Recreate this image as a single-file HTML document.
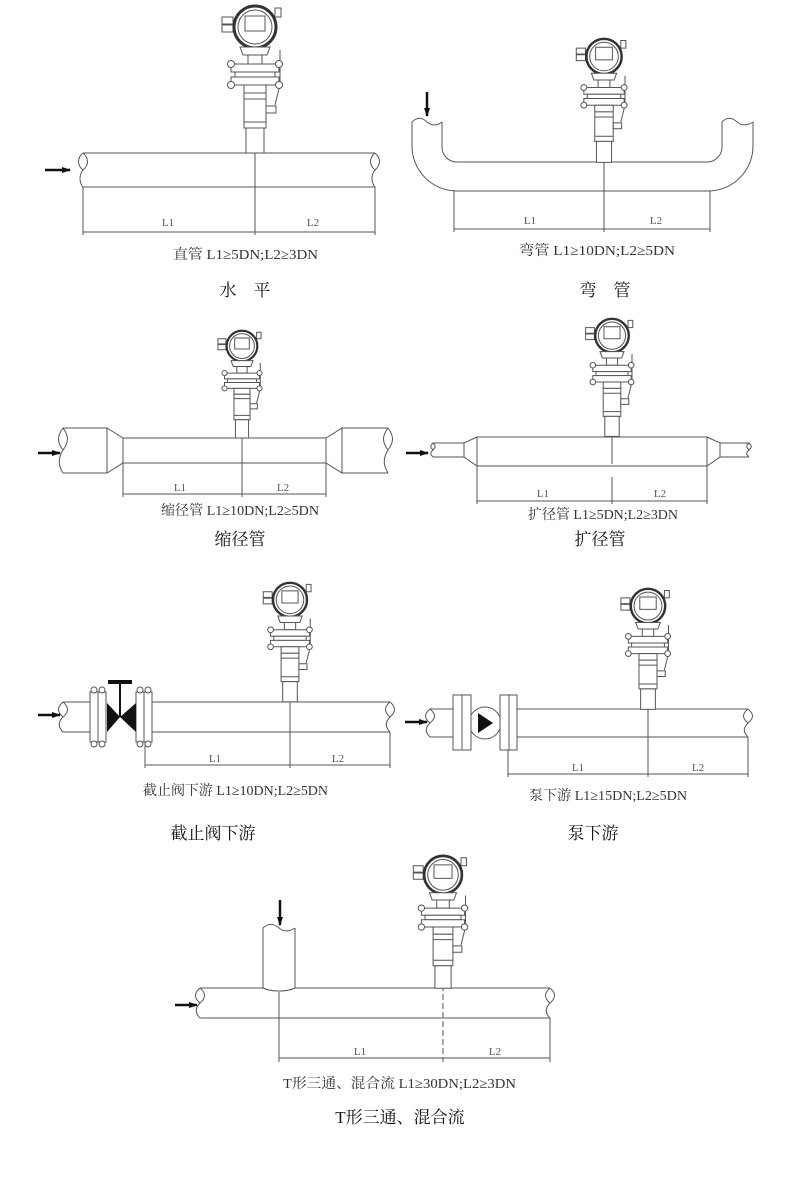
<!DOCTYPE html>
<html><head><meta charset="utf-8"><style>
html,body{margin:0;padding:0;background:#fff}
svg{display:block}
text{font-family:"Liberation Serif","Noto Serif CJK SC","Noto Sans CJK SC",serif;fill:#333}
.c{font-size:14px}
.t{font-size:17px;fill:#111}
.l{font-size:11px;fill:#555}
</style></head><body>
<svg width="800" height="1200" viewBox="0 0 800 1200" xmlns="http://www.w3.org/2000/svg">
<defs>
<g id="m" fill="#fff" stroke="#555" stroke-width="1">
  <rect x="-33" y="12" width="11" height="7" vector-effect="non-scaling-stroke"/>
  <rect x="-33" y="20" width="11" height="7" vector-effect="non-scaling-stroke"/>
  <rect x="20" y="3" width="6" height="9" vector-effect="non-scaling-stroke"/>
  <circle cx="0" cy="22" r="21" stroke="#333" stroke-width="3"/>
  <circle cx="0" cy="22" r="17" vector-effect="non-scaling-stroke"/>
  <rect x="-10" y="11" width="20" height="15" vector-effect="non-scaling-stroke"/>
  <path d="M-15,42 L15,42 L12,50 L-12,50 Z" vector-effect="non-scaling-stroke"/>
  <rect x="-7" y="50" width="14" height="9" vector-effect="non-scaling-stroke"/>
  <path d="M25,45 L25,80 L20,100" fill="none" vector-effect="non-scaling-stroke"/>
  <rect x="-24" y="59" width="48" height="8" vector-effect="non-scaling-stroke"/>
  <rect x="-20" y="67" width="40" height="5" vector-effect="non-scaling-stroke"/>
  <rect x="-24" y="72" width="48" height="8" vector-effect="non-scaling-stroke"/>
  <circle cx="-24" cy="59" r="3.5" vector-effect="non-scaling-stroke"/>
  <circle cx="24" cy="59" r="3.5" vector-effect="non-scaling-stroke"/>
  <circle cx="-24" cy="80" r="3.5" vector-effect="non-scaling-stroke"/>
  <circle cx="24" cy="80" r="3.5" vector-effect="non-scaling-stroke"/>
  <rect x="-11" y="80" width="22" height="8" vector-effect="non-scaling-stroke"/>
  <rect x="-11" y="88" width="22" height="35" vector-effect="non-scaling-stroke"/>
  <line x1="-11" y1="94" x2="11" y2="94" vector-effect="non-scaling-stroke"/>
  <line x1="-11" y1="117" x2="11" y2="117" vector-effect="non-scaling-stroke"/>
  <rect x="11" y="101" width="10" height="7" vector-effect="non-scaling-stroke"/>
  <rect x="-9" y="123" width="18" height="25" vector-effect="non-scaling-stroke"/>
</g>
<marker id="ah" markerUnits="userSpaceOnUse" markerWidth="9" markerHeight="8" refX="8" refY="4" orient="auto"><path d="M0,1 L9,4 L0,7 Z" fill="#111"/></marker>
</defs>

<g stroke="#555" stroke-width="1" fill="none">
<!-- Diagram 1 -->
<path d="M83,153 L375,153 M83,187 L375,187"/>
<path d="M83,153 c-6,5 -6,12 0,17 c6,-5 6,-12 0,-17 M83,170 c-4,5 -4,12 0,17"/>
<path d="M375,153 c-6,5 -6,12 0,17 c6,-5 6,-12 0,-17 M375,170 c-4,5 -4,12 0,17"/>
<path d="M83,187 V235 M375,187 V235 M255,150 V235 M83,232 H375"/>
<!-- Diagram 2 -->
<path d="M412,122 V146 a45,45 0 0 0 45,45 H708 a45,45 0 0 0 45,-45 V122"/>
<path d="M442,122 V147 a15,15 0 0 0 15,15 H707 a15,15 0 0 0 15,-15 V122"/>
<path d="M412,122 c5,-5 10,-5 15,0 c5,4 10,4 15,0 M722,122 c5,-5 10,-5 15,0 c5,4 10,4 16,0"/>
<path d="M454,191 V232 M710,191 V232 M604,158 V232 M454,229 H710"/>
<!-- Diagram 3 -->
<path d="M63,428 H107 L123,438 H326 L342,428 H388 M63,473 H107 L123,463 H326 L342,473 H388 M107,428 V473 M123,438 V463 M326,438 V463 M342,428 V473"/>
<path d="M63,428 c-6,8 -6,14 0,22 c6,-8 6,-14 0,-22 M63,450 c-5,8 -5,15 0,23"/>
<path d="M388,428 c-6,8 -6,14 0,22 c6,-8 6,-14 0,-22 M388,450 c-5,8 -5,15 0,23"/>
<path d="M123,463 V497 M326,463 V497 M242,436 V497 M123,494 H326"/>
<!-- Diagram 4 -->
<path d="M433,443 H464 L477,437 H707 L720,443 H749 M433,457 H464 L477,466 H707 L720,457 H749 M464,443 V457 M477,437 V466 M707,437 V466 M720,443 V457"/>
<path d="M433,443 c-3,3 -3,4 0,7 c3,-3 3,-4 0,-7 M433,450 c-3,3 -3,4 0,7 M749,443 c-3,3 -3,4 0,7 c3,-3 3,-4 0,-7 M749,450 c-3,3 -3,4 0,7"/>
<path d="M477,466 V504 M707,466 V504 M612,434 V464 M612,477 V504 M477,501 H707"/>
<!-- Diagram 5 -->
<path d="M63,702 H90 M63,732 H90 M152,702 H390 M152,732 H390"/>
<path d="M63,702 c-6,5 -6,10 0,15 c6,-5 6,-10 0,-15 M63,717 c-5,5 -5,10 0,15 M390,702 c-6,5 -6,10 0,15 c6,-5 6,-10 0,-15 M390,717 c-5,5 -5,10 0,15"/>
<rect x="90" y="692" width="8" height="50" fill="#fff"/><rect x="98" y="692" width="8" height="50" fill="#fff"/>
<rect x="136" y="692" width="8" height="50" fill="#fff"/><rect x="144" y="692" width="8" height="50" fill="#fff"/>
<circle cx="94" cy="690" r="3" fill="#fff"/><circle cx="102" cy="690" r="3" fill="#fff"/><circle cx="94" cy="744" r="3" fill="#fff"/><circle cx="102" cy="744" r="3" fill="#fff"/>
<circle cx="140" cy="690" r="3" fill="#fff"/><circle cx="148" cy="690" r="3" fill="#fff"/><circle cx="140" cy="744" r="3" fill="#fff"/><circle cx="148" cy="744" r="3" fill="#fff"/>
<path d="M145,742 V768 M390,732 V768 M290,700 V768 M145,765 H390"/>
<!-- Diagram 6 -->
<path d="M430,709 H453 M430,737 H453 M517,709 H748 M517,737 H748"/>
<path d="M430,709 c-6,5 -6,9 0,14 c6,-5 6,-9 0,-14 M430,723 c-5,5 -5,9 0,14 M748,709 c-6,5 -6,9 0,14 c6,-5 6,-9 0,-14 M748,723 c-5,5 -5,9 0,14"/>
<circle cx="485" cy="723" r="16" fill="#fff"/>
<rect x="453" y="695" width="9" height="55" fill="#fff"/><rect x="462" y="695" width="9" height="55" fill="#fff"/>
<rect x="500" y="695" width="9" height="55" fill="#fff"/><rect x="509" y="695" width="8" height="55" fill="#fff"/>
<path d="M508,750 V777 M748,737 V777 M648,707 V777 M508,774 H748"/>
<!-- Diagram 7 -->
<path d="M200,988 H263 M295,988 H550 M200,1018 H550 M263,928 V988 M295,928 V988"/>
<path d="M263,928 c5,-5 10,-5 16,0 c5,4 10,4 16,0 M263,988 c8,4 24,4 32,0"/>
<path d="M200,988 c-6,5 -6,10 0,15 c6,-5 6,-10 0,-15 M200,1003 c-5,5 -5,10 0,15 M550,988 c-6,5 -6,10 0,15 c6,-5 6,-10 0,-15 M550,1003 c-5,5 -5,10 0,15"/>
<path d="M279,992 V1062 M550,1018 V1062 M279,1058 H550"/>
<path d="M443,985 V1062" stroke-dasharray="6,3"/>
</g>

<g fill="#111">
<path d="M107,703 L120,717 L107,732 Z M136,703 L120,717 L136,732 Z"/>
<rect x="108" y="680" width="24" height="4"/>
<path d="M478,713 L493,723 L478,733 Z"/>
</g>
<line x1="120" y1="684" x2="120" y2="717" stroke="#111" stroke-width="2"/>

<g stroke="#111" stroke-width="2.5" marker-end="url(#ah)">
<line x1="45" y1="170" x2="70" y2="170"/>
<line x1="427" y1="92" x2="427" y2="116"/>
<line x1="38" y1="453" x2="60" y2="453"/>
<line x1="406" y1="453" x2="428" y2="453"/>
<line x1="38" y1="715" x2="60" y2="715"/>
<line x1="405" y1="722" x2="427" y2="722"/>
<line x1="175" y1="1005" x2="197" y2="1005"/>
<line x1="280" y1="900" x2="280" y2="925"/>
</g>

<use href="#m" transform="translate(255,5)"/>
<use href="#m" transform="translate(604,38) scale(0.84)"/>
<use href="#m" transform="translate(242,330) scale(0.73)"/>
<use href="#m" transform="translate(612,318) scale(0.8)"/>
<use href="#m" transform="translate(290,582) scale(0.81)"/>
<use href="#m" transform="translate(648,588) scale(0.82)"/>
<use href="#m" transform="translate(443,855) scale(0.9)"/>

<text class="l" x="168" y="226" text-anchor="middle">L1</text><text class="l" x="313" y="226" text-anchor="middle">L2</text>
<text class="l" x="530" y="224" text-anchor="middle">L1</text><text class="l" x="656" y="224" text-anchor="middle">L2</text>
<text class="l" x="180" y="491" text-anchor="middle">L1</text><text class="l" x="283" y="491" text-anchor="middle">L2</text>
<text class="l" x="543" y="497" text-anchor="middle">L1</text><text class="l" x="660" y="497" text-anchor="middle">L2</text>
<text class="l" x="215" y="762" text-anchor="middle">L1</text><text class="l" x="338" y="762" text-anchor="middle">L2</text>
<text class="l" x="578" y="771" text-anchor="middle">L1</text><text class="l" x="698" y="771" text-anchor="middle">L2</text>
<text class="l" x="360" y="1055" text-anchor="middle">L1</text><text class="l" x="495" y="1055" text-anchor="middle">L2</text>

<text class="c" x="173" y="259" textLength="145" lengthAdjust="spacingAndGlyphs">直管  L1≥5DN;L2≥3DN</text>
<text class="c" x="519" y="255" textLength="156" lengthAdjust="spacingAndGlyphs">弯管   L1≥10DN;L2≥5DN</text>
<text class="c" x="161" y="515" textLength="158" lengthAdjust="spacingAndGlyphs">缩径管  L1≥10DN;L2≥5DN</text>
<text class="c" x="528" y="519" textLength="150" lengthAdjust="spacingAndGlyphs">扩径管  L1≥5DN;L2≥3DN</text>
<text class="c" x="143" y="795" textLength="185" lengthAdjust="spacingAndGlyphs">截止阀下游  L1≥10DN;L2≥5DN</text>
<text class="c" x="529" y="800" textLength="158" lengthAdjust="spacingAndGlyphs">泵下游  L1≥15DN;L2≥5DN</text>
<text class="c" x="283" y="1088" textLength="233" lengthAdjust="spacingAndGlyphs">T形三通、混合流   L1≥30DN;L2≥3DN</text>

<text class="t" x="245" y="296" text-anchor="middle">水　平</text>
<text class="t" x="605" y="296" text-anchor="middle">弯　管</text>
<text class="t" x="240" y="545" text-anchor="middle">缩径管</text>
<text class="t" x="600" y="545" text-anchor="middle">扩径管</text>
<text class="t" x="213" y="839" text-anchor="middle">截止阀下游</text>
<text class="t" x="593" y="839" text-anchor="middle">泵下游</text>
<text class="t" x="400" y="1123" text-anchor="middle">T形三通、混合流</text>
</svg>
</body></html>
